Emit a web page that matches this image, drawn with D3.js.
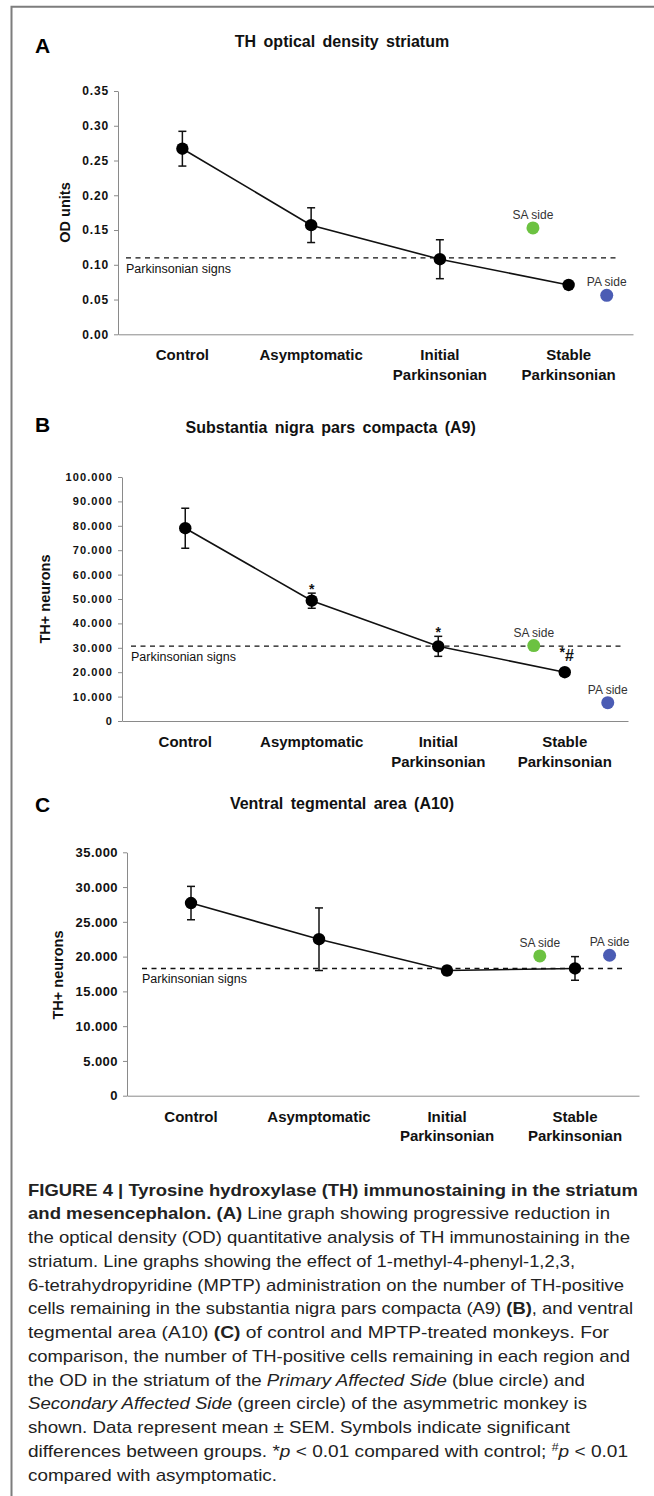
<!DOCTYPE html>
<html>
<head>
<meta charset="utf-8">
<script src="https://cdn.jsdelivr.net/npm/d3@7"></script>
<style>
  body { margin: 0; background: #fff; }
  svg text { font-family: "Liberation Sans", Arial, sans-serif; }
</style>
</head>
<body>
<div id="container"></div>
<script>
/* DATA */

var categories = ["Control", "Asymptomatic", "Initial Parkinsonian", "Stable Parkinsonian"];
var sideLabels = ["SA side", "PA side"];

// A - TH optical density, striatum (OD units)
var odMean = [0.267, 0.157, 0.108, 0.071];
var odSem = [0.025, 0.025, 0.028, 0.003];
var odSides = [0.153, 0.056];
var odSigns = 0.110;
var odTicks = [0, 0.05, 0.10, 0.15, 0.20, 0.25, 0.30, 0.35];

// B - substantia nigra pars compacta (A9), TH+ neurons
var a9Mean = [79000, 49300, 30600, 20000];
var a9Sem = [8200, 3100, 4100, 500];
var a9Sides = [30900, 7500];
var a9Signs = 30700;
var a9Marks = ["", "*", "*", "*#"];
var a9Ticks = [0, 10000, 20000, 30000, 40000, 50000, 60000, 70000, 80000, 90000, 100000];

// C - ventral tegmental area (A10), TH+ neurons
var a10Mean = [27700, 22500, 18000, 18300];
var a10Sem = [2400, 4500, 600, 1700];
var a10Sides = [20100, 20200];
var a10Signs = 18300;
var a10Ticks = [0, 5000, 10000, 15000, 20000, 25000, 30000, 35000];

/* FORMATS AND LAYOUT */

var dotFmt = d3.formatLocale({ decimal: ",", thousands: ".", grouping: [3], currency: ["", ""] }).format(",");

var sideColors = ["#6cc241", "#4b5cb4"];

var panels = [
  { letter: "A", title: "TH optical density striatum", yLabel: "OD units",
    mean: odMean, sem: odSem, sides: odSides, signs: odSigns, ticks: odTicks, marks: null,
    fmt: d3.format(".2f"),
    left: 118, right: 633, top: 91, bottom: 334.3,
    letterY: 52.5, titleX: 342, titleY: 47.3, yLabelX: 64.6, yLabelY: 212.5,
    tickFont: 12, tickSpacing: 0.85, dash: [126, 618], sideOffset: [-0.277, 0.296] },
  { letter: "B", title: "Substantia nigra pars compacta (A9)", yLabel: "TH+ neurons",
    mean: a9Mean, sem: a9Sem, sides: a9Sides, signs: a9Signs, ticks: a9Ticks, marks: a9Marks,
    fmt: dotFmt,
    left: 122, right: 628, top: 477, bottom: 721,
    letterY: 431.7, titleX: 330.7, titleY: 433.3, yLabelX: 45, yLabelY: 599,
    tickFont: 11, tickSpacing: 1.1, dash: [131, 624], sideOffset: [-0.245, 0.34] },
  { letter: "C", title: "Ventral tegmental area (A10)", yLabel: "TH+ neurons",
    mean: a10Mean, sem: a10Sem, sides: a10Sides, signs: a10Signs, ticks: a10Ticks, marks: null,
    fmt: dotFmt,
    left: 127, right: 639, top: 852.3, bottom: 1095.7,
    letterY: 811.5, titleX: 342, titleY: 809.3, yLabelX: 57.5, yLabelY: 975,
    tickFont: 13, tickSpacing: 0.45, dash: [142, 624], sideOffset: [-0.275, 0.27] }
];

var svg = d3.select("#container")
  .append("svg")
  .attr("width", 654)
  .attr("height", 1496);

// frame of the figure (left and top edges only, the rest is cropped)
svg.append("path")
  .attr("d", "M11.5,1496V6.8H654")
  .attr("fill", "none")
  .attr("stroke", "#7d7d7d")
  .attr("stroke-width", 2);

panels.forEach(function(p) {
  var x = d3.scaleBand().domain(categories).range([p.left, p.right]);
  var cx = function(i) { return x(categories[i]) + x.bandwidth() / 2; };
  var y = d3.scaleLinear().domain([0, p.ticks[p.ticks.length - 1]]).range([p.bottom, p.top]);
  var g = svg.append("g");

  // panel letter + title
  g.append("text")
    .attr("x", 35).attr("y", p.letterY)
    .style("font-size", "21px").style("font-weight", "bold")
    .text(p.letter);

  g.append("text")
    .attr("x", p.titleX).attr("y", p.titleY)
    .attr("text-anchor", "middle")
    .style("font-size", "16px").style("font-weight", "bold")
    .style("word-spacing", "3px")
    .attr("fill", "#111")
    .text(p.title);

  // Y axis
  var yAxis = g.append("g")
    .attr("transform", "translate(" + p.left + ",0)")
    .call(d3.axisLeft(y).tickValues(p.ticks).tickFormat(p.fmt).tickSize(4).tickSizeOuter(0).tickPadding(5));
  yAxis.selectAll("path, line").attr("stroke", "#8a8a8a");
  yAxis.selectAll("text")
    .attr("fill", "#111")
    .style("font-size", p.tickFont + "px")
    .style("font-weight", "bold")
    .style("letter-spacing", p.tickSpacing + "px");

  g.append("text")
    .attr("transform", "translate(" + p.yLabelX + "," + p.yLabelY + ") rotate(-90)")
    .attr("text-anchor", "middle")
    .attr("dominant-baseline", "central")
    .style("font-size", "14.5px").style("font-weight", "bold")
    .attr("fill", "#111")
    .text(p.yLabel);

  // X axis, two-line category labels
  var xAxis = g.append("g")
    .attr("transform", "translate(0," + p.bottom + ")")
    .call(d3.axisBottom(x).tickSize(0).tickSizeOuter(0));
  xAxis.select(".domain").attr("stroke", "#8a8a8a");
  xAxis.selectAll(".tick text").each(function(d) {
    var t = d3.select(this).text(null).attr("y", 0).attr("dy", null)
      .attr("fill", "#111")
      .style("font-size", "15px").style("font-weight", "bold");
    d.split(" ").forEach(function(w, i) {
      t.append("tspan").attr("x", 0).attr("y", 26.2 + i * 19.3).text(w);
    });
  });

  // Parkinsonian signs threshold
  g.append("line")
    .attr("x1", p.dash[0]).attr("x2", p.dash[1])
    .attr("y1", y(p.signs)).attr("y2", y(p.signs))
    .attr("stroke", "#111")
    .attr("stroke-width", 1.4)
    .attr("stroke-dasharray", "5,4.5");

  g.append("text")
    .attr("x", p.dash[0]).attr("y", y(p.signs) + 15)
    .style("font-size", "12.5px")
    .attr("fill", "#111")
    .text("Parkinsonian signs");

  // mean line
  var line = d3.line()
    .x(function(d, i) { return cx(i); })
    .y(function(d) { return y(d); });

  g.append("path")
    .datum(p.mean)
    .attr("d", line)
    .attr("fill", "none")
    .attr("stroke", "#111")
    .attr("stroke-width", 1.6);

  // error bars
  var eb = g.selectAll(".err")
    .data(p.mean)
    .enter()
    .append("g")
    .attr("class", "err")
    .attr("stroke", "#111")
    .attr("stroke-width", 1.5);
  eb.append("line")
    .attr("x1", function(d, i) { return cx(i); })
    .attr("x2", function(d, i) { return cx(i); })
    .attr("y1", function(d, i) { return y(d - p.sem[i]); })
    .attr("y2", function(d, i) { return y(d + p.sem[i]); });
  [-1, 1].forEach(function(s) {
    eb.append("line")
      .attr("x1", function(d, i) { return cx(i) - 4; })
      .attr("x2", function(d, i) { return cx(i) + 4; })
      .attr("y1", function(d, i) { return y(d + s * p.sem[i]); })
      .attr("y2", function(d, i) { return y(d + s * p.sem[i]); });
  });

  // mean dots
  g.selectAll(".dot")
    .data(p.mean)
    .enter()
    .append("circle")
    .attr("class", "dot")
    .attr("cx", function(d, i) { return cx(i); })
    .attr("cy", function(d) { return y(d); })
    .attr("r", 6.2)
    .attr("fill", "#000");

  // significance marks
  if (p.marks) {
    p.marks.forEach(function(m, i) {
      if (!m) return;
      var t = g.append("text")
        .attr("x", cx(i) + (m.length > 1 ? 2 : 0))
        .attr("text-anchor", "middle")
        .style("font-weight", "bold")
        .attr("fill", "#111");
      if (m.length > 1) {
        t.attr("y", y(p.mean[i]) - 11);
        t.append("tspan").attr("dy", -4).style("font-size", "14px").text(m[0]);
        t.append("tspan").attr("dy", 4).style("font-size", "16px").text(m.slice(1));
      } else {
        t.attr("y", y(p.mean[i] + p.sem[i]) + 1).style("font-size", "14px").text(m);
      }
    });
  }

  // asymmetric monkey: secondary / primary affected side
  p.sides.forEach(function(v, k) {
    var sx = cx(3) + p.sideOffset[k] * x.bandwidth();
    g.append("circle")
      .attr("cx", sx).attr("cy", y(v))
      .attr("r", 6.5)
      .attr("fill", sideColors[k]);
    g.append("text")
      .attr("x", sx).attr("y", y(v) - 9)
      .attr("text-anchor", "middle")
      .style("font-size", "12px")
      .attr("fill", "#333")
      .text(sideLabels[k]);
  });
});

/* CAPTION */

var captionLines = [
  [["FIGURE 4 | Tyrosine hydroxylase (TH) immunostaining in the striatum", "b"]],
  [["and mesencephalon. (A)", "b"], [" Line graph showing progressive reduction in", ""]],
  [["the optical density (OD) quantitative analysis of TH immunostaining in the", ""]],
  [["striatum. Line graphs showing the effect of 1-methyl-4-phenyl-1,2,3,", ""]],
  [["6-tetrahydropyridine (MPTP) administration on the number of TH-positive", ""]],
  [["cells remaining in the substantia nigra pars compacta (A9) ", ""], ["(B)", "b"], [", and ventral", ""]],
  [["tegmental area (A10) ", ""], ["(C)", "b"], [" of control and MPTP-treated monkeys. For", ""]],
  [["comparison, the number of TH-positive cells remaining in each region and", ""]],
  [["the OD in the striatum of the ", ""], ["Primary Affected Side", "i"], [" (blue circle) and", ""]],
  [["Secondary Affected Side", "i"], [" (green circle) of the asymmetric monkey is", ""]],
  [["shown. Data represent mean \u00b1 SEM. Symbols indicate significant", ""]],
  [["differences between groups. *", ""], ["p", "i"], [" < 0.01 compared with control; ", ""], ["#", "sup"], ["p", "i"], [" < 0.01", ""]],
  [["compared with asymptomatic.", ""]]
];
var captionWidths = [610, 582, 602, 547, 596, 605, 581, 602, 557, 559, 542, 600, 249];

var cap = svg.append("g").attr("fill", "#222").style("font-size", "17px");
captionLines.forEach(function(parts, i) {
  var t = cap.append("text")
    .attr("x", 28)
    .attr("y", 1195.5 + i * 23.75)
    .attr("textLength", captionWidths[i])
    .attr("lengthAdjust", "spacingAndGlyphs");
  parts.forEach(function(s) {
    var ts = t.append("tspan").text(s[0]);
    if (s[1] === "b") ts.style("font-weight", "bold");
    if (s[1] === "i") ts.style("font-style", "italic");
    if (s[1] === "sup") ts.style("font-size", "11px").attr("baseline-shift", "super");
  });
});
</script>
</body>
</html>
